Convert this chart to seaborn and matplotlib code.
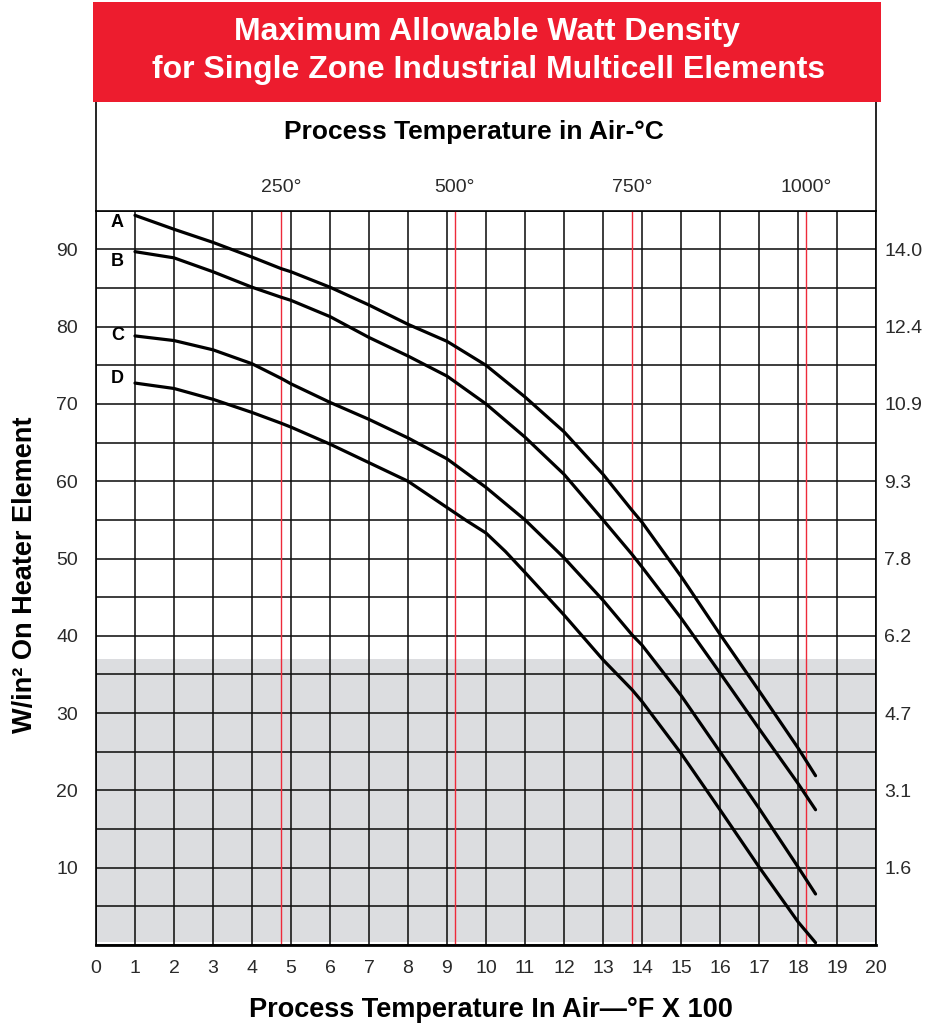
import matplotlib
matplotlib.use("Agg")
import matplotlib.pyplot as plt
from matplotlib import font_manager
from matplotlib.patches import Rectangle
import matplotlib.transforms as mtransforms
import seaborn as sns
import pandas as pd

# ---------------- data ----------------
temp_abc = [1, 2, 3, 4, 4.75, 5, 6, 7, 8, 9, 10, 11, 12, 13, 13.75, 14, 15, 16, 17, 18, 18.45]
curve_a = [94.4, 92.6, 90.9, 89.0, 87.5, 87.1, 85.1, 82.8, 80.3, 78.1, 75.0, 70.9, 66.4, 60.9, 56.2, 54.7, 47.7, 40.2, 32.9, 25.5, 21.9]
curve_b = [89.7, 88.9, 87.1, 85.1, 83.8, 83.4, 81.3, 78.6, 76.2, 73.6, 70.0, 65.7, 60.9, 55.0, 50.5, 48.9, 42.3, 35.2, 28.0, 20.9, 17.5]
curve_c = [78.8, 78.2, 77.0, 75.2, 73.3, 72.6, 70.2, 68.0, 65.6, 62.9, 59.2, 55.0, 50.1, 44.6, 40.1, 38.8, 32.3, 25.0, 17.7, 10.1, 6.6]
temp_d = [1, 2, 3, 4, 4.75, 5, 6, 7, 8, 9, 9.5, 10, 10.5, 11, 12, 13, 13.75, 14, 15, 16, 17, 18, 18.45]
curve_d = [72.7, 72.0, 70.6, 68.9, 67.5, 67.0, 64.8, 62.4, 60.0, 56.6, 54.9, 53.3, 50.9, 48.2, 42.7, 36.9, 33.0, 31.5, 24.8, 17.5, 10.1, 3.0, 0.3]
curve_names = ["A", "B", "C", "D"]
curve_label_y = [93.5, 88.4, 78.8, 73.3]

celsius_labels = ["250°", "500°", "750°", "1000°"]
celsius_pos_f100 = [4.75, 9.2, 13.75, 18.2]

x_ticks = list(range(0, 21))
left_ticks = [10, 20, 30, 40, 50, 60, 70, 80, 90]
right_labels = ["1.6", "3.1", "4.7", "6.2", "7.8", "9.3", "10.9", "12.4", "14.0"]
shade_top = 37

title_lines = ["Maximum Allowable Watt Density",
               "for Single Zone Industrial Multicell Elements"]
top_title = "Process Temperature in Air-°C"
x_title = "Process Temperature In Air—°F X 100"
y_title = "W/in² On Heater Element"

# ---------------- fonts ----------------
sns.set_theme(style="white")
names = {f.name for f in font_manager.fontManager.ttflist}
narrow = "Liberation Sans Narrow" if "Liberation Sans Narrow" in names else "Liberation Sans"
base = "Liberation Sans" if "Liberation Sans" in names else "DejaVu Sans"
plt.rcParams["font.family"] = [base, "DejaVu Sans"]

df = pd.concat([
    pd.DataFrame({"temp": xs, "watt": vals, "curve": name})
    for name, xs, vals in zip(curve_names, [temp_abc, temp_abc, temp_abc, temp_d],
                              [curve_a, curve_b, curve_c, curve_d])
])

W, H = 926, 1026
fig = plt.figure(figsize=(W / 100, H / 100), dpi=100)
fig.patch.set_facecolor("white")

ax_l, ax_r, ax_t, ax_b = 96, 876, 210.7, 945
ax = fig.add_axes([ax_l / W, 1 - ax_b / H, (ax_r - ax_l) / W, (ax_b - ax_t) / H])
ax.set_xlim(0, 20)
ax.set_ylim(0, 95)
ax.set_facecolor("white")

# shaded region
ax.axhspan(0.35, shade_top, color="#dcdde0", zorder=0, lw=0)

# grid
for xv in x_ticks:
    ax.axvline(xv, color="#111111", lw=1.15, zorder=1)
for yv in range(0, 96, 5):
    ax.axhline(yv, color="#111111", lw=1.15, zorder=1)

# red celsius lines
for xv in celsius_pos_f100:
    ax.axvline(xv, color="#ee2a3a", lw=1.0, zorder=2)

sns.lineplot(data=df, x="temp", y="watt", hue="curve",
             palette=["black"] * 4, legend=False, lw=2.3, ax=ax, zorder=3,
             sort=False)
for ln in ax.get_lines()[-4:]:
    ln.set_solid_joinstyle("round")

for name, yv in zip(curve_names, curve_label_y):
    ax.text(0.55, yv, name, fontsize=13, fontweight="bold", ha="center",
            va="center", color="black", zorder=4)

tick_color = "#2a2a2a"
ax.set_xticks(x_ticks)
ax.set_xticklabels([str(v) for v in x_ticks], fontsize=14, color=tick_color)
ax.set_yticks(left_ticks)
ax.set_yticklabels([str(v) for v in left_ticks], fontsize=14, color=tick_color)
ax.tick_params(axis="x", length=0, pad=11)
ax.tick_params(axis="y", length=0, pad=13)
ax.grid(False)
ax.set_xlabel("")
ax.set_ylabel("")

for s in ["top", "left", "right"]:
    ax.spines[s].set_color("black")
    ax.spines[s].set_linewidth(1.2)
ax.spines["bottom"].set_color("black")
ax.spines["bottom"].set_linewidth(2.0)

ax2 = ax.twinx()
ax2.set_ylim(0, 95)
ax2.set_yticks(left_ticks)
ax2.set_yticklabels(right_labels, fontsize=14, color=tick_color)
ax2.tick_params(axis="y", length=0, pad=6)
ax2.grid(False)
for s in ax2.spines.values():
    s.set_visible(False)

# celsius labels on top
trans = mtransforms.blended_transform_factory(ax.transData, ax.transAxes)
for lab, xv in zip(celsius_labels, celsius_pos_f100):
    ax.text(xv, (ax_b - 187) / (ax_b - ax_t), lab, transform=trans, fontsize=14,
            ha="center", va="center", color=tick_color)

# frame extension up to red box
top_frac = (ax_b - 102) / (ax_b - ax_t)
ax.plot([0, 0], [1, top_frac], transform=ax.transAxes, color="black", lw=1.2, clip_on=False)
ax.plot([1, 1], [1, top_frac], transform=ax.transAxes, color="black", lw=1.2, clip_on=False)

ax.text(0.484, (ax_b - 132) / (ax_b - ax_t), top_title, transform=ax.transAxes,
        fontsize=19, fontweight="bold", family=[narrow, "DejaVu Sans"],
        ha="center", va="center", color="black")

# red title box
fig.patches.append(Rectangle((93 / W, 1 - 102 / H), (881 - 93) / W, (102 - 2) / H,
                             transform=fig.transFigure, facecolor="#ed1c2e",
                             edgecolor="none", zorder=0))
fig.text(487 / W, 1 - 32 / H, title_lines[0], fontsize=23, fontweight="bold",
         family=[narrow, "DejaVu Sans"], color="white", ha="center", va="center")
fig.text(489 / W, 1 - 70 / H, title_lines[1], fontsize=23, fontweight="bold",
         family=[narrow, "DejaVu Sans"], color="white", ha="center", va="center")

fig.text(491 / W, 1 - 1010 / H, x_title, fontsize=19.5, fontweight="bold",
         family=[narrow, "DejaVu Sans"], color="black", ha="center", va="center")
fig.text(25 / W, 1 - 575 / H, y_title, fontsize=19.5, fontweight="bold",
         family=[narrow, "DejaVu Sans"], color="black", ha="center", va="center",
         rotation=90)

fig.savefig("out.png", dpi=100)
